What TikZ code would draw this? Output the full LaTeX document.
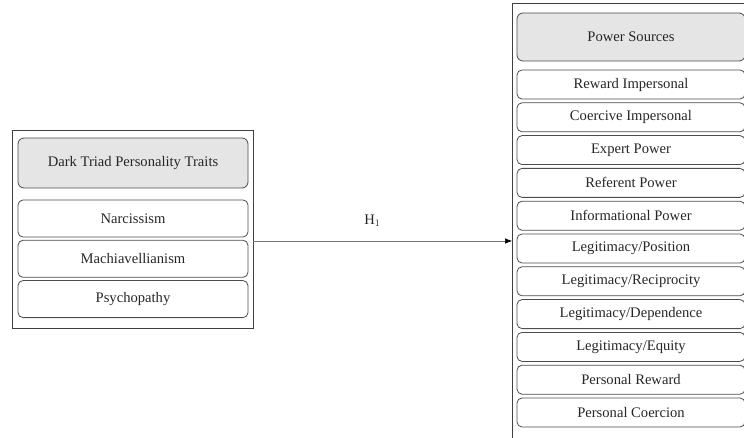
\documentclass[tikz,border=0pt]{standalone}
\usepackage{fontspec}
\setmainfont{Liberation Serif}
\usepackage{tikz}
\usetikzlibrary{arrows.meta,positioning}

\begin{document}
\begin{tikzpicture}[x=1pt,y=-1pt,>={Latex[length=7pt,width=5.5pt,black]},
  every node/.style={font=\fontsize{14.6}{16}\selectfont,text=black!85},
  frame/.style={draw=black!75,line width=0.9pt,inner sep=0pt},
  headbox/.style={draw=black!70,fill=black!10,rounded corners=6pt,line width=0.8pt,minimum height=49pt},
  itembox/.style={draw=black!70,rounded corners=5pt,line width=0.8pt}]
  \useasboundingbox (0,0) rectangle (744,438);
  \clip (0,0) rectangle (744,438);

  % left block
  \node[frame,minimum width=241pt,minimum height=198pt] (dt) at (132.5,229) {};
  \node[headbox,minimum width=230pt,minimum height=50pt] (dth) at (133,163) {Dark Triad Personality Traits};
  \node[itembox,minimum width=230pt,minimum height=37pt] (nar) at (133,218.5) {Narcissism};
  \node[itembox,minimum width=230pt,minimum height=37pt] (mac) [below=2.5pt of nar] {Machiavellianism};
  \node[itembox,minimum width=230pt,minimum height=37pt] (psy) [below=2.5pt of mac] {Psychopathy};

  % right block
  \node[frame,minimum width=300pt,minimum height=480pt,anchor=north west] (ps) at (512,3) {};
  \node[headbox,minimum width=228pt,minimum height=48pt] (psh) at (631,37) {Power Sources};
  \node[itembox,minimum width=228pt,minimum height=29pt] (r1) at (631,84.5) {Reward Impersonal};
  \node[itembox,minimum width=228pt,minimum height=29pt] (r2) [below=3pt of r1] {Coercive Impersonal};
  \node[itembox,minimum width=228pt,minimum height=29pt] (r3) [below=3pt of r2] {Expert Power};
  \node[itembox,minimum width=228pt,minimum height=29pt] (r4) [below=3pt of r3] {Referent Power};
  \node[itembox,minimum width=228pt,minimum height=29pt] (r5) [below=3pt of r4] {Informational Power};
  \node[itembox,minimum width=228pt,minimum height=29pt] (r6) [below=3pt of r5] {Legitimacy/Position};
  \node[itembox,minimum width=228pt,minimum height=29pt] (r7) [below=3pt of r6] {Legitimacy/Reciprocity};
  \node[itembox,minimum width=228pt,minimum height=29pt] (r8) [below=3pt of r7] {Legitimacy/Dependence};
  \node[itembox,minimum width=228pt,minimum height=29pt] (r9) [below=3pt of r8] {Legitimacy/Equity};
  \node[itembox,minimum width=228pt,minimum height=29pt] (r10) [below=3pt of r9] {Personal Reward};
  \node[itembox,minimum width=228pt,minimum height=29pt] (r11) [below=3pt of r10] {Personal Coercion};

  % hypothesis
  \coordinate (h) at (0,241);
  \draw[->,draw=black!55,line width=0.6pt] (dt.east |- h) -- node[pos=0.46,above=11pt] {H$_1$} (ps.west |- h);
\end{tikzpicture}
\end{document}
